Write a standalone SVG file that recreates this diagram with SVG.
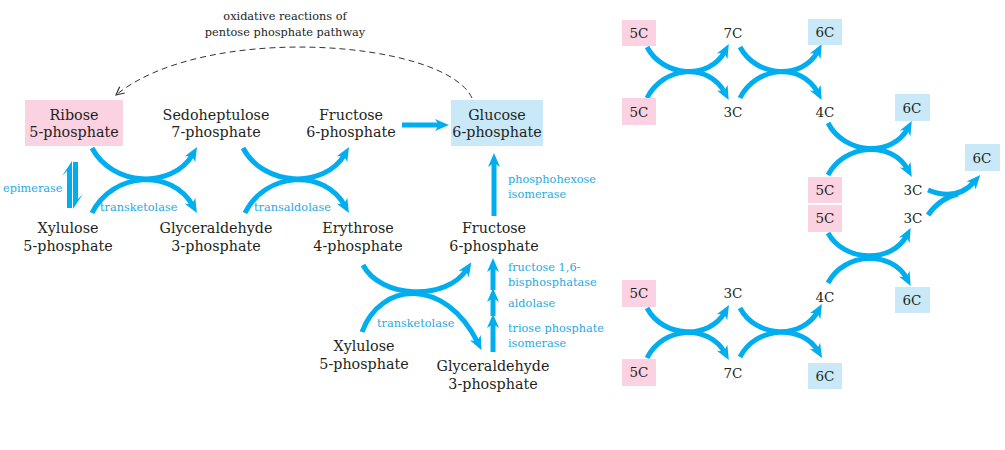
<svg xmlns="http://www.w3.org/2000/svg" width="1005" height="450" viewBox="0 0 1005 450">
<style>
.t{font-family:"DejaVu Serif","Liberation Serif",serif;font-size:14.3px;fill:#231f20;text-anchor:middle}
.c{font-family:"DejaVu Serif","Liberation Serif",serif;font-size:13.5px;fill:#231f20;text-anchor:middle}
.e{font-family:"DejaVu Serif","Liberation Serif",serif;font-size:11.3px;fill:#27aae1}
.k{font-family:"DejaVu Serif","Liberation Serif",serif;font-size:11.3px;fill:#231f20;text-anchor:middle}
.pk{fill:#fad2e1}
.bl{fill:#c9e9f9}
.a{fill:none;stroke:#00aeef;stroke-width:5;marker-end:url(#ah)}
.n{fill:none;stroke:#00aeef;stroke-width:5}
</style>
<defs>
<marker id="ah" viewBox="0 0 14 14" refX="6" refY="7" markerWidth="14" markerHeight="14" markerUnits="userSpaceOnUse" orient="auto"><path d="M0,1 L14,7 L0,13 L4,7 z" fill="#00aeef"/></marker>
<marker id="dh" viewBox="0 0 10 10" refX="9" refY="5" markerWidth="10" markerHeight="10" markerUnits="userSpaceOnUse" orient="auto"><path d="M1,1 L9,5 L1,9" fill="none" stroke="#333" stroke-width="1.2"/></marker>
</defs>
<rect width="1005" height="450" fill="#fff"/>

<g id="connectors">
<path d="M472,98 C445,40 205,22 116,95" fill="none" stroke="#333" stroke-width="1" stroke-dasharray="6,4" marker-end="url(#dh)"/>
<!-- left transketolase -->
<path class="a" d="M92,148 C112,186 172,190 193,154"/>
<path class="a" d="M92,213 C112,172 172,168 193,206"/>
<!-- transaldolase -->
<path class="a" d="M243,148 C263,186 324,190 345,154"/>
<path class="a" d="M245,213 C265,172 324,168 345,206"/>
<!-- lower transketolase -->
<path class="a" d="M363,265 C380,298 446,302 467,269"/>
<path class="a" d="M362,332 C380,282 445,276 478,343"/>
<!-- straight -->
<path class="a" d="M402,125 L441,125"/>
<path class="a" d="M494,216 L494,161"/>
<path class="a" d="M493,352 L493,322"/>
<path class="a" d="M493,316 L493,296"/>
<path class="a" d="M493,290 L493,266"/>
<!-- epimerase -->
<path d="M67,208 L67,171 L62,176 L72,161 L72,208 Z" fill="#00aeef"/>
<path d="M73,162 L78,162 L78,199 L83,194 L73,209 Z" fill="#00aeef"/>
<!-- right side -->
<path class="a" d="M647,47 C663,77 709,81 725,51"/>
<path class="a" d="M647,98 C663,66 709,62 725,93"/>
<path class="a" d="M740,47 C756,77 802,81 818,51"/>
<path class="a" d="M740,98 C756,66 802,62 818,93"/>
<path class="a" d="M828,123 C844,154 892,158 908,128"/>
<path class="a" d="M828,175 C844,144 892,140 908,170"/>
<path class="a" d="M928,190 C945,197 962,196 975,181"/>
<path class="n" d="M928,215 C935,205 945,197 958,194"/>
<path class="a" d="M828,233 C844,262 892,264 907,235"/>
<path class="a" d="M828,283 C844,252 892,250 907,279"/>
<path class="a" d="M647,308 C663,338 709,340 725,312"/>
<path class="a" d="M647,358 C663,326 709,324 725,353"/>
<path class="a" d="M740,308 C756,338 802,340 818,311"/>
<path class="a" d="M740,357 C756,326 802,324 818,351"/>
</g>

<g id="labels">
<text class="k" x="285" y="20">oxidative reactions of</text>
<text class="k" x="285" y="36">pentose phosphate pathway</text>
<text class="e" x="3" y="192">epimerase</text>
<text class="e" x="100" y="211">transketolase</text>
<text class="e" x="254" y="211">transaldolase</text>
<text class="e" x="377" y="327">transketolase</text>
<text class="e" x="508" y="183">phosphohexose</text>
<text class="e" x="508" y="198">isomerase</text>
<text class="e" x="508" y="271">fructose 1,6-</text>
<text class="e" x="508" y="286">bisphosphatase</text>
<text class="e" x="508" y="307">aldolase</text>
<text class="e" x="508" y="332">triose phosphate</text>
<text class="e" x="508" y="347">isomerase</text>
</g>

<g id="ribose5p"><rect class="pk" x="25" y="100" width="98" height="46"/><text class="t" x="74" y="120">Ribose</text><text class="t" x="74" y="137">5-phosphate</text></g>
<g id="sedoheptulose7p"><text class="t" x="216" y="120">Sedoheptulose</text><text class="t" x="216" y="137">7-phosphate</text></g>
<g id="fructose6p-top"><text class="t" x="351" y="120">Fructose</text><text class="t" x="351" y="137">6-phosphate</text></g>
<g id="glucose6p"><rect class="bl" x="451" y="100" width="92" height="46"/><text class="t" x="497" y="120">Glucose</text><text class="t" x="497" y="137">6-phosphate</text></g>
<g id="xylulose5p"><text class="t" x="68" y="233">Xylulose</text><text class="t" x="68" y="251">5-phosphate</text></g>
<g id="glyceraldehyde3p"><text class="t" x="216" y="233">Glyceraldehyde</text><text class="t" x="216" y="251">3-phosphate</text></g>
<g id="erythrose4p"><text class="t" x="358" y="233">Erythrose</text><text class="t" x="358" y="251">4-phosphate</text></g>
<g id="fructose6p-low"><text class="t" x="494" y="233">Fructose</text><text class="t" x="494" y="251">6-phosphate</text></g>
<g id="xylulose5p-low"><text class="t" x="364" y="351">Xylulose</text><text class="t" x="364" y="369">5-phosphate</text></g>
<g id="glyceraldehyde3p-low"><text class="t" x="493" y="371">Glyceraldehyde</text><text class="t" x="493" y="389">3-phosphate</text></g>

<g id="r5c1"><rect class="pk" x="622" y="20" width="34" height="26"/><text class="c" x="639" y="38">5C</text></g>
<g id="r7c1"><text class="c" x="733" y="38">7C</text></g>
<g id="r6c1"><rect class="bl" x="808" y="19" width="34" height="26"/><text class="c" x="825" y="37">6C</text></g>
<g id="r5c2"><rect class="pk" x="622" y="98" width="34" height="27"/><text class="c" x="639" y="117">5C</text></g>
<g id="r3c1"><text class="c" x="733" y="117">3C</text></g>
<g id="r4c1"><text class="c" x="825" y="117">4C</text></g>
<g id="r6c2"><rect class="bl" x="895" y="94" width="35" height="27"/><text class="c" x="912" y="113">6C</text></g>
<g id="r6c3"><rect class="bl" x="965" y="144" width="35" height="27"/><text class="c" x="982" y="163">6C</text></g>
<g id="r5c3"><rect class="pk" x="808" y="177" width="34" height="26"/><text class="c" x="825" y="195">5C</text></g>
<g id="r3c2"><text class="c" x="913" y="195">3C</text></g>
<g id="r5c4"><rect class="pk" x="808" y="205" width="34" height="27"/><text class="c" x="825" y="223">5C</text></g>
<g id="r3c3"><text class="c" x="913" y="223">3C</text></g>
<g id="r6c4"><rect class="bl" x="895" y="287" width="35" height="26"/><text class="c" x="912" y="305">6C</text></g>
<g id="r4c2"><text class="c" x="825" y="302">4C</text></g>
<g id="r5c5"><rect class="pk" x="622" y="280" width="34" height="27"/><text class="c" x="639" y="298">5C</text></g>
<g id="r3c4"><text class="c" x="733" y="298">3C</text></g>
<g id="r5c6"><rect class="pk" x="622" y="359" width="34" height="27"/><text class="c" x="639" y="377">5C</text></g>
<g id="r7c2"><text class="c" x="733" y="378">7C</text></g>
<g id="r6c5"><rect class="bl" x="808" y="363" width="34" height="26"/><text class="c" x="825" y="381">6C</text></g>
</svg>
